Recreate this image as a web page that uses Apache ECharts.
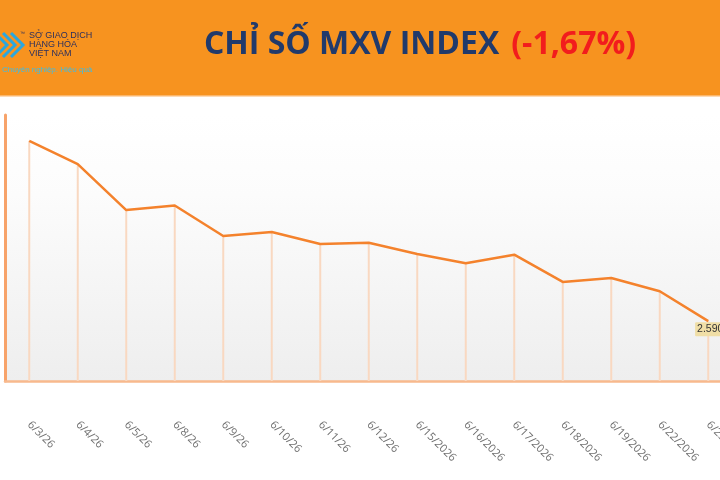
<!DOCTYPE html>
<html>
<head>
<meta charset="utf-8">
<script src="https://cdn.jsdelivr.net/npm/echarts@6/dist/echarts.min.js"></script>
<style>
  html, body { margin: 0; padding: 0; background: #fff; }
  #chart { width: 720px; height: 480px; }
</style>
</head>
<body>
<div id="chart"></div>
<script>
'use strict';

///// データ /////

const dates = ['6/3/26', '6/4/26', '6/5/26', '6/8/26', '6/9/26', '6/10/26', '6/11/26', '6/12/26',
  '6/15/2026', '6/16/2026', '6/17/2026', '6/18/2026', '6/19/2026', '6/22/2026', '6/23/2026'];

const mxv = [2861, 2826, 2757, 2764, 2718, 2724, 2706, 2708, 2691, 2677, 2690, 2649, 2655, 2635, 2590];

const titleMain = 'CHỈ SỐ MXV INDEX';
const titleChange = '(-1,67%)';

const logoLines = ['SỞ GIAO DỊCH', 'HÀNG HÓA', 'VIỆT NAM'];
const logoSlogan = 'Chuyên nghiệp. Hiệu quả';

//////////////////////

const fmt = (v) => String(v).replace(/\B(?=(\d{3})+(?!\d))/g, '.');

const lineData = mxv.map((v, i) => {
  if (i < mxv.length - 1) return v;
  return {
    value: v,
    label: {
      show: true,
      position: 'bottom',
      distance: 0,
      offset: [2, 1],
      formatter: (p) => fmt(p.value),
      backgroundColor: '#f0dea6',
      color: '#333',
      fontSize: 10.5,
      lineHeight: 12,
      fontFamily: 'Liberation Sans',
      padding: [1, 2, 1, 2],
      borderRadius: 1
    }
  };
});

// ロゴの矢印
const chevron = (dx, dy) => ({
  type: 'polyline',
  shape: { points: [[dx, dy], [dx + 12, dy + 12], [dx, dy + 24]] },
  style: { stroke: '#2aa7df', lineWidth: 3, fill: null }
});

const chart = echarts.init(document.getElementById('chart'));

chart.setOption({
  backgroundColor: '#ffffff',
  animation: false,
  title: {
    text: '{a|' + titleMain + '}{b|' + titleChange + '}',
    left: 415,
    textAlign: 'center',
    top: 24,
    textStyle: {
      rich: {
        a: { fontFamily: 'Open Sans', fontWeight: 'bold', fontSize: 32, color: '#213a6b' },
        b: { fontFamily: 'Open Sans', fontWeight: 'bold', fontSize: 32, color: '#f21d1d', padding: [0, 0, 0, 12] }
      }
    }
  },
  graphic: [
    { type: 'rect', z: -10, shape: { x: 0, y: 0, width: 720, height: 95 }, style: { fill: '#f7931f' } },
    { type: 'rect', z: -10, shape: { x: 0, y: 95, width: 720, height: 1.5 }, style: { fill: '#fbb66a' } },
    chevron(-5, 33), chevron(3, 33), chevron(11, 33),
    ...logoLines.map((t, i) => ({
      type: 'text', x: 29, y: 31 + i * 9,
      style: { text: t, fill: '#2b2f5e', font: '9px "Liberation Sans Narrow", "Liberation Sans", sans-serif' }
    })),
    { type: 'text', x: 20, y: 31, style: { text: '™', fill: '#2b2f5e', font: '5px sans-serif' } },
    {
      type: 'text', x: 2, y: 66,
      style: { text: logoSlogan, fill: '#3bbde8', font: '8px "Liberation Sans Narrow", "Liberation Sans", sans-serif' }
    }
  ],
  grid: {
    left: 5,
    width: 727.5,
    top: 115,
    bottom: 99,
    outerBoundsMode: 'none',
    containLabel: false,
    show: true,
    borderWidth: 0,
    backgroundColor: {
      type: 'linear', x: 0, y: 0, x2: 0, y2: 1,
      colorStops: [
        { offset: 0, color: '#ffffff' },
        { offset: 0.3, color: '#fcfcfc' },
        { offset: 1, color: '#eeeeee' }
      ]
    }
  },
  xAxis: {
    type: 'category',
    data: dates,
    boundaryGap: true,
    axisLine: { lineStyle: { color: '#f8b98d', width: 2.5 } },
    axisTick: { show: false },
    axisLabel: {
      rotate: -45,
      margin: 42,
      interval: 0,
      color: '#707070',
      fontSize: 11,
      fontFamily: 'Open Sans'
    },
    splitLine: { show: false }
  },
  yAxis: {
    type: 'value',
    min: 2500,
    max: 2900,
    axisLine: { show: true, lineStyle: { color: '#f7a36a', width: 3 } },
    axisTick: { show: false },
    axisLabel: { show: false },
    splitLine: { show: false }
  },
  series: [
    {
      // 縦の補助線
      type: 'bar',
      data: mxv,
      barWidth: 2,
      itemStyle: { color: '#f9d8c1' },
      silent: true,
      z: 1
    },
    {
      type: 'line',
      data: lineData,
      symbol: 'circle',
      symbolSize: 0.1,
      showSymbol: true,
      itemStyle: { color: '#f4822c' },
      lineStyle: { color: '#f4822c', width: 2.5 },
      z: 3
    }
  ]
});
</script>
</body>
</html>
